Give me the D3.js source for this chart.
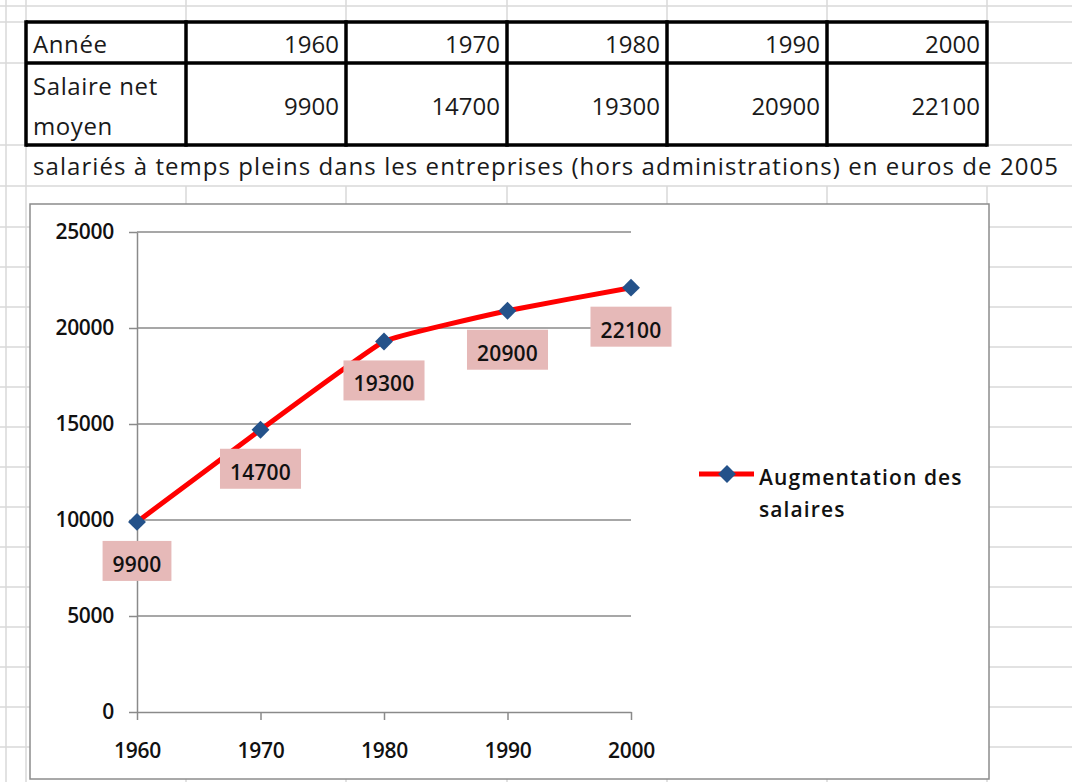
<!DOCTYPE html>
<html>
<head>
<meta charset="utf-8">
<script src="https://cdn.jsdelivr.net/npm/d3@7"></script>
<style>
  body { margin: 0; background: #fff; }
  svg { display: block; font-family: "Open Sans", sans-serif; }
</style>
</head>
<body>
<svg id="sheet" width="1072" height="782"></svg>
<script>
// data
var years = [1960, 1970, 1980, 1990, 2000];
var salaries = [9900, 14700, 19300, 20900, 22100];
var yTicks = [0, 5000, 10000, 15000, 20000, 25000];
var rowLabel1 = "Année";
var rowLabel2 = ["Salaire net", "moyen"];
var subtitle = "salariés à temps pleins dans les entreprises (hors administrations) en euros de 2005";
var seriesName = ["Augmentation des", "salaires"];

var svg = d3.select("#sheet");

// spreadsheet grid
var sheetRows = [6, 22, 63, 145, 186];
for (var r = 227; r < 782; r += 40) sheetRows.push(r);
var sheetCols = [186, 346, 507, 667, 827, 987];

var grid = svg.append("g").attr("stroke", "#d9d9d9").attr("stroke-width", 1.5);
grid.selectAll("line.h")
	.data(sheetRows)
	.enter()
	.append("line")
	.attr("x1", 0).attr("x2", 1072)
	.attr("y1", function(d) { return d; })
	.attr("y2", function(d) { return d; });
grid.selectAll("line.e")
	.data([6, 26])
	.enter()
	.append("line")
	.attr("x1", function(d) { return d; })
	.attr("x2", function(d) { return d; })
	.attr("y1", 0).attr("y2", 782);
// column lines above the table and below the subtitle row
grid.selectAll("line.c1")
	.data(sheetCols)
	.enter()
	.append("line")
	.attr("x1", function(d) { return d; })
	.attr("x2", function(d) { return d; })
	.attr("y1", 0).attr("y2", 22);
grid.selectAll("line.c2")
	.data(sheetCols)
	.enter()
	.append("line")
	.attr("x1", function(d) { return d; })
	.attr("x2", function(d) { return d; })
	.attr("y1", 186).attr("y2", 782);

// the table
var tableCols = [26].concat(sheetCols);
var tableRows = [22, 63, 145];
var table = svg.append("g");
table.append("rect")
	.attr("x", 26).attr("y", 22)
	.attr("width", 987 - 26).attr("height", 145 - 22)
	.attr("fill", "#fff");
table.selectAll("line.tr")
	.data(tableRows)
	.enter()
	.append("line")
	.attr("x1", 26).attr("x2", 987)
	.attr("y1", function(d) { return d; })
	.attr("y2", function(d) { return d; })
	.attr("stroke", "#000").attr("stroke-width", 3.5);
table.selectAll("line.tc")
	.data(tableCols)
	.enter()
	.append("line")
	.attr("x1", function(d) { return d; })
	.attr("x2", function(d) { return d; })
	.attr("y1", 20.25).attr("y2", 146.75)
	.attr("stroke", "#000").attr("stroke-width", 3.5);

var cellText = table.append("g")
	.attr("font-size", 24)
	.attr("fill", "#1a1a1a");
cellText.append("text").attr("x", 33).attr("y", 53).attr("letter-spacing", 0.6).text(rowLabel1);
cellText.selectAll("text.l2")
	.data(rowLabel2)
	.enter()
	.append("text")
	.attr("x", 33)
	.attr("y", function(d, i) { return 95 + i * 40; })
	.attr("letter-spacing", 0.6)
	.text(function(d) { return d; });
cellText.selectAll("text.yr")
	.data(years)
	.enter()
	.append("text")
	.attr("text-anchor", "end")
	.attr("x", function(d, i) { return tableCols[i + 2] - 7; })
	.attr("y", 53)
	.text(function(d) { return d; });
cellText.selectAll("text.val")
	.data(salaries)
	.enter()
	.append("text")
	.attr("text-anchor", "end")
	.attr("x", function(d, i) { return tableCols[i + 2] - 7; })
	.attr("y", 115)
	.text(function(d) { return d; });

svg.append("text")
	.attr("x", 33).attr("y", 175)
	.attr("font-size", 24)
	.attr("fill", "#1a1a1a")
	.attr("textLength", 1025)
	.attr("lengthAdjust", "spacing")
	.text(subtitle);

// chart area
svg.append("rect")
	.attr("x", 30).attr("y", 204)
	.attr("width", 959).attr("height", 575)
	.attr("fill", "#fff")
	.attr("stroke", "#8c8c8c")
	.attr("stroke-width", 1.5);

var x = d3.scaleLinear().domain([1960, 2000]).range([137, 631]);
var y = d3.scaleLinear().domain([0, 25000]).range([712, 232]);

// horizontal gridlines
svg.append("g")
	.selectAll("line")
	.data(yTicks.slice(1))
	.enter()
	.append("line")
	.attr("x1", x(1960)).attr("x2", x(2000))
	.attr("y1", function(d) { return y(d); })
	.attr("y2", function(d) { return y(d); })
	.attr("stroke", "#8a8a8a")
	.attr("stroke-width", 1.5);

var yAxis = svg.append("g")
	.attr("transform", "translate(" + x(1960) + ",0)")
	.call(d3.axisLeft(y).tickValues(yTicks).tickSize(8).tickSizeOuter(0).tickPadding(15).tickFormat(d3.format("d")));
var xAxis = svg.append("g")
	.attr("transform", "translate(0," + y(0) + ")")
	.call(d3.axisBottom(x).tickValues(years).tickSize(8).tickSizeOuter(0).tickPadding(23).tickFormat(d3.format("d")));

[yAxis, xAxis].forEach(function(a) {
	a.selectAll("path.domain").attr("stroke", "#8a8a8a").attr("stroke-width", 1.5);
	a.selectAll(".tick line").attr("stroke", "#8a8a8a").attr("stroke-width", 1.5);
	a.selectAll(".tick text")
		.attr("font-family", "Open Sans, sans-serif")
		.attr("font-size", 21)
		.attr("font-weight", 600)
		.attr("letter-spacing", -0.3)
		.attr("fill", "#111");
});

// the series
var points = years.map(function(d, i) { return { year: d, value: salaries[i] }; });

var line = d3.line()
	.x(function(d) { return x(d.year); })
	.y(function(d) { return y(d.value); })
	.curve(d3.curveCardinal.tension(0.7));

svg.append("path")
	.datum(points)
	.attr("d", line)
	.attr("fill", "none")
	.attr("stroke", "#ff0000")
	.attr("stroke-width", 5)
	.attr("stroke-linejoin", "round");

var diamond = d3.symbol().type(d3.symbolSquare).size(160);
svg.append("g")
	.selectAll("path")
	.data(points)
	.enter()
	.append("path")
	.attr("d", diamond)
	.attr("transform", function(d) {
		return "translate(" + x(d.year) + "," + y(d.value) + ") rotate(45)";
	})
	.attr("fill", "#24528a");

// data labels
var labels = svg.append("g")
	.selectAll("g")
	.data(points)
	.enter()
	.append("g")
	.attr("transform", function(d) {
		return "translate(" + x(d.year) + "," + (y(d.value) + 19) + ")";
	});
labels.append("rect").attr("fill", "#e6b9b8");
labels.append("text")
	.attr("text-anchor", "middle")
	.attr("y", 31)
	.attr("font-size", 21)
	.attr("font-weight", 600)
	.attr("letter-spacing", 0.2)
	.attr("fill", "#111")
	.text(function(d) { return d.value; });
labels.each(function() {
	var g = d3.select(this);
	var w = g.select("text").node().getComputedTextLength() + 20;
	g.select("rect")
		.attr("x", -w / 2).attr("y", 0)
		.attr("width", w).attr("height", 40);
});

// legend
var legend = svg.append("g");
legend.append("line")
	.attr("x1", 699).attr("x2", 754)
	.attr("y1", 474).attr("y2", 474)
	.attr("stroke", "#ff0000")
	.attr("stroke-width", 5);
legend.append("path")
	.attr("d", diamond)
	.attr("transform", "translate(727,474) rotate(45)")
	.attr("fill", "#24528a");
legend.selectAll("text")
	.data(seriesName)
	.enter()
	.append("text")
	.attr("x", 759)
	.attr("y", function(d, i) { return 485 + i * 32; })
	.attr("font-size", 21)
	.attr("font-weight", 600)
	.attr("letter-spacing", 1.1)
	.attr("fill", "#111")
	.text(function(d) { return d; });
</script>
</body>
</html>
